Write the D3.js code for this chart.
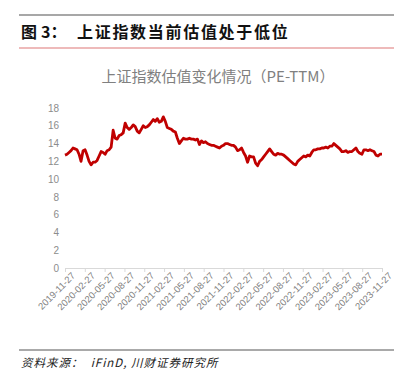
<!DOCTYPE html>
<html>
<head>
<meta charset="utf-8">
<script src="https://cdn.jsdelivr.net/npm/d3@7"></script>
<style>
  body { margin: 0; background: #fff; }
  svg { display: block; font-family: "Noto Sans CJK SC", "Noto Sans", sans-serif; }
</style>
</head>
<body>
<svg id="chart" width="413" height="389"></svg>
<script>
// Tick labels (quarterly)
const tickLabels = ["2019-11-27", "2020-02-27", "2020-05-27", "2020-08-27", "2020-11-27",
  "2021-02-27", "2021-05-27", "2021-08-27", "2021-11-27", "2022-02-27", "2022-05-27",
  "2022-08-27", "2022-11-27", "2023-02-27", "2023-05-27", "2023-08-27", "2023-11-27"];

const yTicks = [0, 2, 4, 6, 8, 10, 12, 14, 16, 18];

// PE-TTM, evenly spaced from 2019-11-27 to 2023-11-27
const peValues = [
  12.7, 12.8, 13.0, 13.2, 13.5, 13.4, 13.3, 12.8, 12.0, 13.2, 13.3, 12.7, 12.0, 11.6, 11.9, 11.9,
  12.1, 12.6, 13.1, 13.0, 12.8, 13.2, 13.3, 13.6, 15.5, 14.6, 14.5, 14.9, 15.0, 15.2, 16.3, 15.8,
  15.6, 15.8, 16.1, 15.9, 15.4, 15.2, 15.6, 16.0, 15.8, 15.9, 16.1, 16.4, 16.7, 16.5, 16.8, 16.4,
  16.5, 17.0, 16.5, 15.8, 15.7, 15.6, 15.4, 15.3, 14.6, 14.0, 14.3, 14.6, 14.5, 14.5, 14.6, 14.5,
  14.5, 14.4, 14.5, 13.9, 14.3, 14.1, 14.2, 14.0, 13.9, 13.8, 13.8, 13.7, 13.6, 13.5, 13.7, 13.8,
  14.0, 14.0, 13.9, 13.8, 13.8, 13.6, 13.2, 13.3, 13.5, 13.0, 12.6, 11.9, 12.6, 12.5, 12.5, 11.8,
  11.5, 12.0, 12.2, 12.5, 12.8, 13.1, 13.4, 13.1, 12.8, 12.7, 12.9, 12.8, 12.8, 12.7, 12.5, 12.3,
  12.1, 11.9, 11.7, 11.6, 12.0, 12.2, 12.4, 12.6, 12.5, 12.7, 12.6, 13.0, 13.3, 13.3, 13.4, 13.4,
  13.5, 13.5, 13.6, 13.5, 13.7, 13.7, 14.0, 13.8, 13.6, 13.4, 13.1, 13.1, 13.2, 13.0, 13.1, 13.1,
  13.3, 13.5, 13.1, 12.9, 12.8, 13.3, 13.3, 13.2, 13.3, 13.2, 13.1, 12.7, 12.6, 12.8, 12.8
];

const svg = d3.select("#chart");

// Header rules and caption
svg.append("line").attr("x1", 19).attr("x2", 394).attr("y1", 15).attr("y2", 15)
  .attr("stroke", "#8a8a8a").attr("stroke-width", 1.3);
svg.append("line").attr("x1", 19).attr("x2", 394).attr("y1", 48).attr("y2", 48)
  .attr("stroke", "#e8a3a3").attr("stroke-width", 1.5);

const cap = svg.append("text")
  .attr("y", 38)
  .style("font-size", "16px")
  .style("font-weight", "bold")
  .attr("fill", "#111");
cap.append("tspan").attr("x", 21).text("图");
cap.append("tspan").attr("x", 41).text("3：");
cap.append("tspan").attr("x", 77).style("letter-spacing", "1.7px").text("上证指数当前估值处于低位");

// Chart title
svg.append("text")
  .attr("x", 218).attr("y", 82)
  .attr("text-anchor", "middle")
  .style("font-size", "15px")
  .attr("fill", "#808080")
  .text("上证指数估值变化情况（PE-TTM）");

// Scales
const x = d3.scaleLinear().domain([0, tickLabels.length - 1]).range([65, 382]);
const xi = d3.scaleLinear().domain([0, peValues.length - 1]).range([65, 382]);
const y = d3.scaleLinear().domain([0, 18]).range([268, 108]);

// Y axis (labels only)
const yAxis = svg.append("g")
  .attr("transform", "translate(62,0)")
  .call(d3.axisLeft(y).tickValues(yTicks).tickSize(0).tickPadding(3));
yAxis.select(".domain").remove();
yAxis.selectAll("text").attr("fill", "#8c8c8c").style("font-size", "10px")
  .style("font-family", "Liberation Sans, Arial, sans-serif");

// X axis
const xAxis = svg.append("g")
  .attr("transform", `translate(0,${y(0)})`)
  .call(d3.axisBottom(x).tickValues(d3.range(tickLabels.length))
    .tickFormat(i => tickLabels[i]).tickSize(4).tickSizeOuter(0));
xAxis.select(".domain").attr("stroke", "#d9d9d9");
xAxis.selectAll(".tick line").attr("stroke", "#d9d9d9");
xAxis.selectAll("text")
  .attr("fill", "#7f7f7f")
  .style("font-size", "9.5px")
  .style("font-family", "Liberation Sans, Arial, sans-serif")
  .attr("text-anchor", "end")
  .attr("dx", "0.3em")
  .attr("dy", "0.5em")
  .attr("transform", "translate(0,2) rotate(-45)");

// Line
const line = d3.line()
  .x((d, i) => xi(i))
  .y(d => y(d));

svg.append("path")
  .datum(peValues)
  .attr("fill", "none")
  .attr("stroke", "#c00000")
  .attr("stroke-width", 2.8)
  .attr("stroke-linejoin", "round")
  .attr("d", line);

// Footer
svg.append("line").attr("x1", 19).attr("x2", 394).attr("y1", 350).attr("y2", 350)
  .attr("stroke", "#555").attr("stroke-width", 1);

svg.append("text")
  .attr("x", 21).attr("y", 367)
  .style("font-size", "11.5px")
  .style("font-style", "italic")
  .style("letter-spacing", "1px")
  .attr("fill", "#222")
  .attr("xml:space", "preserve")
  .text("资料来源：  iFinD, 川财证券研究所");
</script>
</body>
</html>
